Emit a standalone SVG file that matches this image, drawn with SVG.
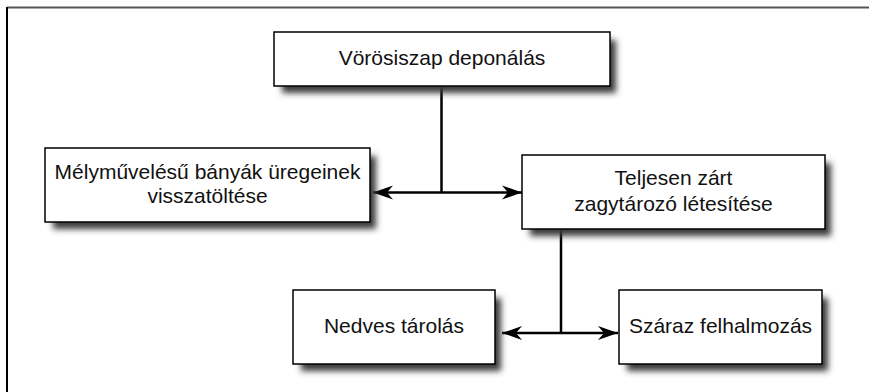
<svg xmlns="http://www.w3.org/2000/svg" width="869" height="392" viewBox="0 0 869 392">
  <style>
    .box { fill: #ffffff; stroke: #000000; stroke-width: 1.5; }
    .shadow { fill: #3a3a3a; filter: url(#blur); }
    .label { font-family: "Liberation Sans", Arial, sans-serif; font-size: 21px; fill: #111111; text-anchor: middle; }
    .conn { stroke: #000000; stroke-width: 2.5; fill: none; }
    .arrow { stroke: #000000; stroke-width: 2.5; fill: none; marker-start: url(#head); marker-end: url(#head); }
  </style>
  <defs>
    <filter id="blur" x="-20%" y="-30%" width="140%" height="160%">
      <feGaussianBlur stdDeviation="3"/>
    </filter>
    <marker id="head" markerUnits="userSpaceOnUse" markerWidth="24" markerHeight="18" viewBox="-22 -9 24 18" refX="0" refY="0" orient="auto-start-reverse">
      <path d="M0,0 L-20,-7 L-14,0 L-20,7 Z" fill="#000000"/>
    </marker>
  </defs>
  <rect width="869" height="392" fill="#ffffff"/>
  <g id="frame">
    <line x1="7" y1="7.5" x2="869" y2="7.5" stroke="#555555" stroke-width="2"/>
    <line x1="7" y1="7" x2="7" y2="392" stroke="#000000" stroke-width="2"/>
  </g>
  <g id="connectors">
    <line class="conn" x1="441.5" y1="86" x2="441.5" y2="192.5"/>
    <line class="arrow" x1="373" y1="192.5" x2="522" y2="192.5"/>
    <line class="conn" x1="561" y1="229" x2="561" y2="333"/>
    <line class="arrow" x1="502" y1="333" x2="618" y2="333"/>
  </g>
  <g id="node-top">
    <rect class="shadow" x="282" y="40" width="334" height="53"/>
    <rect class="box" x="274" y="32" width="336" height="54"/>
    <text class="label" x="442" y="65">Vörösiszap deponálás</text>
  </g>
  <g id="node-left">
    <rect class="shadow" x="53" y="156" width="323" height="73"/>
    <rect class="box" x="45" y="148" width="325" height="74"/>
    <text class="label" x="207.5" y="179">Mélyművelésű bányák üregeinek</text>
    <text class="label" x="207.5" y="203">visszatöltése</text>
  </g>
  <g id="node-right">
    <rect class="shadow" x="530" y="163" width="301" height="73"/>
    <rect class="box" x="522" y="155" width="303" height="74"/>
    <text class="label" x="673.5" y="185">Teljesen zárt</text>
    <text class="label" x="673.5" y="211">zagytározó létesítése</text>
  </g>
  <g id="node-wet">
    <rect class="shadow" x="301" y="298" width="200" height="73"/>
    <rect class="box" x="293" y="290" width="202" height="74"/>
    <text class="label" x="394" y="333">Nedves tárolás</text>
  </g>
  <g id="node-dry">
    <rect class="shadow" x="627" y="298" width="201" height="73"/>
    <rect class="box" x="619" y="290" width="203" height="74"/>
    <text class="label" x="720.5" y="333">Száraz felhalmozás</text>
  </g>
</svg>
